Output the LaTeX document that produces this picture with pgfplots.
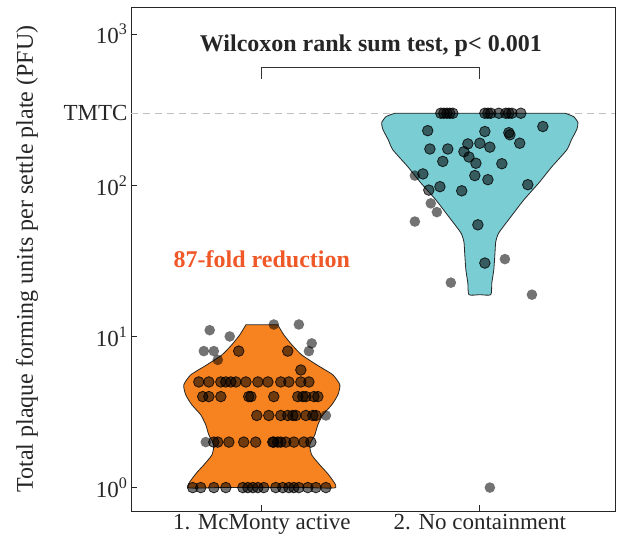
\documentclass[border=0pt]{standalone}
\usepackage{fontspec}
\setmainfont{Liberation Serif}
\usepackage{pgfplots}
\usepackage{pgfplotstable}
\pgfplotsset{compat=1.18}
\definecolor{vorange}{RGB}{246,130,32}
\definecolor{vteal}{RGB}{122,205,211}
\definecolor{redorange}{RGB}{240,88,40}
\newcommand{\bigf}{\fontsize{23}{27}\selectfont}
\newcommand{\bigfb}{\fontsize{24}{28}\selectfont}

% group 1: McMonty active
\pgfplotstableread{
x y
0.683 1
0.720 1
0.780 1
0.835 1
0.913 1
0.936 1
0.959 1
0.982 1
1.009 1
1.064 1
1.096 1
1.124 1
1.147 1
1.170 1
1.211 1
1.248 1
1.294 1
0.780 2
0.798 2
0.849 2
0.917 2
0.972 2
1.050 2
1.055 2
1.073 2
1.087 2
1.110 2
1.147 2
1.193 2
1.225 2
0.977 3
1.032 3
1.087 3
1.119 3
1.142 3
1.156 3
1.202 3
1.234 3
1.248 3
0.729 4
0.757 4
0.812 4
0.940 4
0.950 4
1.055 4
1.165 4
1.188 4
1.202 4
1.239 4
1.257 4
0.711 5
0.757 5
0.812 5
0.835 5
0.858 5
0.881 5
0.927 5
0.982 5
1.028 5
1.087 5
1.124 5
1.179 5
1.216 5
1.179 6
0.894 8
1.119 8
}\gain
\pgfplotstableread{
x y
0.743 2
1.294 3
0.798 7
0.734 8
0.780 8
1.216 8
1.229 9
0.853 10
0.761 11
1.055 12
1.170 12
}\gaout
% group 2: No containment
\pgfplotstableread{
x y
1.821 300
1.835 300
1.849 300
1.862 300
1.876 300
2.023 300
2.037 300
2.050 300
2.087 300
2.119 300
2.133 300
2.147 300
2.188 300
1.761 230
2.023 227
2.133 223
2.138 216
2.289 245
1.771 174
1.853 174
1.945 188
2.000 190
2.046 179
2.183 190
1.927 167
1.950 154
1.830 144
1.982 140
2.101 139
1.739 119
1.977 116
2.037 109
1.817 98
1.766 93
1.917 92
2.220 101
1.991 54.8
2.023 30.6
}\gbin
\pgfplotstableread{
x y
1.702 116
1.775 76
1.803 66.5
1.702 57.6
2.115 32.5
1.867 22.7
2.239 18.9
2.046 1
}\gbout

\begin{document}
\begin{tikzpicture}
\begin{axis}[
  at={(0,0)}, anchor=south west,
  scale only axis, width=484pt, height=504pt,
  ymode=log, ymin=0.70, ymax=1514, xmin=0.4, xmax=2.62,
  xtick={1,2}, xticklabels={1. McMonty active, 2. No containment},
  ytick={1,10,100,300,1000},
  yticklabels={10\textsuperscript{0},10\textsuperscript{1},10\textsuperscript{2},TMTC,10\textsuperscript{3}},
  yminorticks=false, xminorticks=false,
  tick align=inside, xtick pos=bottom, ytick pos=left, major tick length=6pt,
  tick label style={font=\bigf, text=black!85},
  axis line style={line width=0.9pt, black!85},
  tick style={line width=0.9pt, black!85},
  clip=false,
  ptout/.style={only marks, mark=*, mark size=5.3pt,
    mark options={fill=black, fill opacity=0.55, draw opacity=0}},
  ptin/.style={only marks, mark=*, mark size=5.3pt,
    mark options={fill=black, fill opacity=0.55, draw=black, draw opacity=0.8, line width=0.8pt}},
]
\addplot[gray!50, line width=0.8pt, dash pattern=on 7pt off 5pt] coordinates {(0.4,300) (2.62,300)};

% violin 1
\addplot[fill=vorange, draw=black!85, line width=0.8pt, smooth, tension=0.35] coordinates {
(1.073,11.94) (1.101,10.25) (1.138,8.80) (1.183,7.55) (1.252,6.49) (1.326,5.57) (1.358,4.78)
(1.349,4.11) (1.321,3.53) (1.280,3.03) (1.257,2.60) (1.243,2.23) (1.220,1.92) (1.229,1.645)
(1.266,1.413) (1.307,1.213) (1.339,1.0) (1.2,1.0) (1.0,1.0) (0.8,1.0)
(0.661,1.0) (0.693,1.213) (0.734,1.413) (0.771,1.645) (0.780,1.92) (0.757,2.23) (0.743,2.60)
(0.720,3.03) (0.679,3.53) (0.651,4.11) (0.642,4.78) (0.674,5.57) (0.748,6.49) (0.817,7.55)
(0.862,8.80) (0.899,10.25) (0.927,11.94)
} -- cycle;

% violin 2
\addplot[fill=vteal, draw=black!85, line width=0.8pt, smooth, tension=0.35] coordinates {
(2.39,300) (2.43,285) (2.45,260) (2.445,235) (2.42,200) (2.399,171.8) (2.330,132.6) (2.271,103.9)
(2.202,80.2) (2.142,61.9) (2.087,48.5) (2.073,42.3) (2.069,34.7) (2.064,27.6) (2.055,22.6) (2.050,18.9)
(2.0,18.9)
(1.950,18.9) (1.945,22.6) (1.936,27.6) (1.931,34.7) (1.927,42.3) (1.913,48.5) (1.858,61.9) (1.798,80.2)
(1.729,103.9) (1.670,132.6) (1.601,171.8) (1.58,200) (1.555,235) (1.55,260) (1.57,285) (1.61,300)
} -- cycle;

\addplot[ptin] table {\gain};
\addplot[ptout] table {\gaout};
\addplot[ptin] table {\gbin};
\addplot[ptout] table {\gbout};

\draw[black!80, line width=0.8pt] (axis cs:1,507) -- (axis cs:1,601) -- (axis cs:2,601) -- (axis cs:2,507);
\node[anchor=base, font=\bigfb\bfseries, text=black!85] at (axis cs:1.5,764) {Wilcoxon rank sum test, p< 0.001};
\node[anchor=base, font=\bigfb\bfseries, text=redorange] at (axis cs:1.0,28.4) {87-fold reduction};
\end{axis}
\node[rotate=90, font=\bigfb, text=black!85] at (-104pt,252pt) {Total plaque forming units per settle plate (PFU)};
\pgfresetboundingbox
\path[use as bounding box] (-131pt,-34pt) rectangle (489pt,511pt);
\end{tikzpicture}
\end{document}
